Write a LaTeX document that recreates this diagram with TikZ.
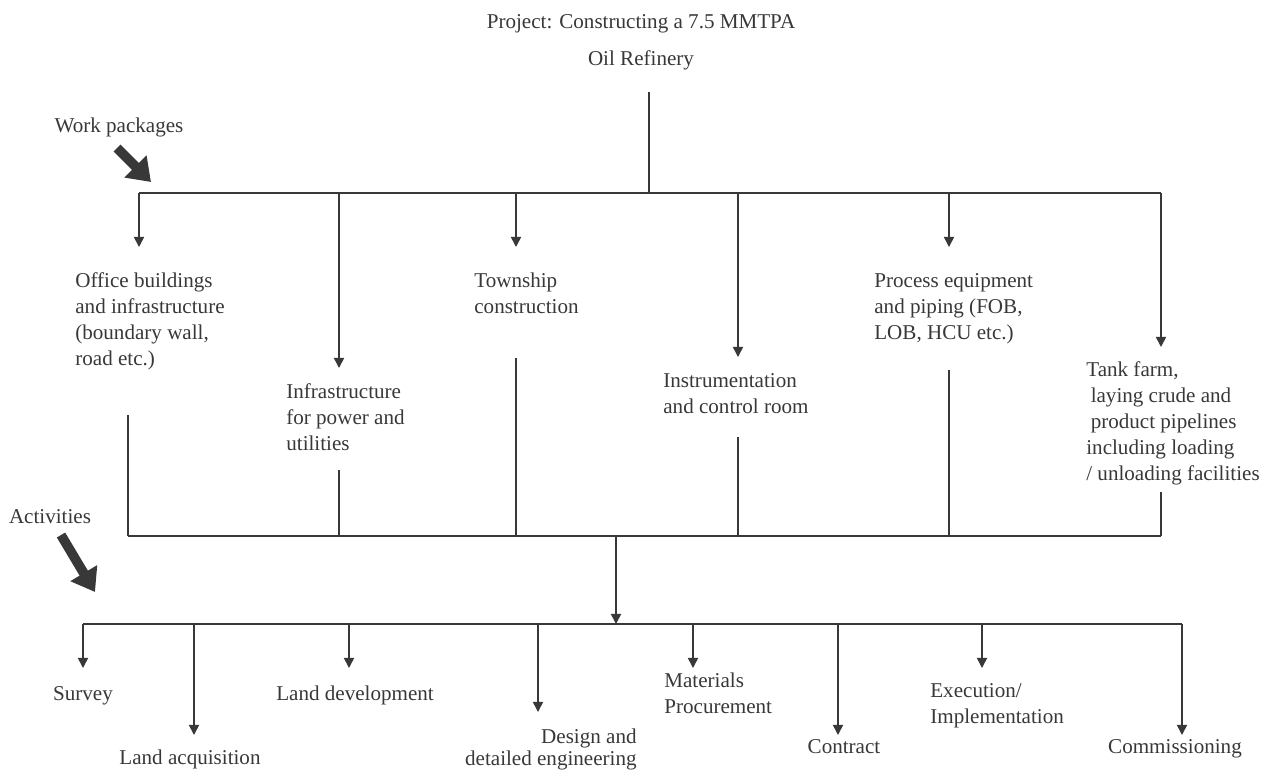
\documentclass[tikz,border=0pt]{standalone}
\usepackage{fontspec}
\setmainfont{Liberation Serif}
\usepackage{tikz}
\usetikzlibrary{arrows.meta, positioning, calc}
\definecolor{inkgray}{gray}{0.22}

\begin{document}
\begin{tikzpicture}[
          x=0.02cm, y=-0.02cm,
          every node/.style={
              font=\fontsize{12pt}{14.8pt}\selectfont,
              text=inkgray, inner sep=0pt
          },
          lbl/.style={align=left, anchor=base west},
          act/.style={anchor=base},
          wire/.style={draw=inkgray, line width=0.9pt},
          arr/.style={wire, -{Triangle[length=5.8pt, width=5.8pt]}},
          bigarr/.style={draw=inkgray, line width=5.5pt,
              -{Triangle[length=12.5pt, width=17pt]}},
      ]
          \useasboundingbox (0,0) rectangle (1269,769);

          % Project (base = last line)
          \node [align=center, anchor=base, font=\fontsize{12pt}{21pt}\selectfont]
              (project) at (641,65) {Project: Constructing a 7.5 MMTPA\\Oil Refinery};
          \coordinate (top) at (649,92);
          \coordinate (wpbus) at (649,193);

          % Work packages
          \node [act] (wplabel) at (119,132) {Work packages};
          \coordinate (wp_from) at (117,148);
          \coordinate (wp_to) at (151,182);

          \node [lbl] (office) at (75,365) {Office buildings\\and infrastructure\\(boundary wall,\\road etc.)};
          \node [lbl] (power) at (286,450) {Infrastructure\\for power and\\utilities};
          \node [lbl] (township) at (474,313) {Township\\construction};
          \node [lbl] (instrument) at (663,413) {Instrumentation\\and control room};
          \node [lbl] (process) at (874,339) {Process equipment\\and piping (FOB,\\LOB, HCU etc.)};
          \node [lbl] (tank) at (1086,480) {Tank farm,\\\hspace{2.5pt}laying crude and\\\hspace{2.5pt}product pipelines\\including loading\\/ unloading facilities};

          \coordinate (office_in) at (139,247);
          \coordinate (power_in) at (339,368);
          \coordinate (township_in) at (516,247);
          \coordinate (instrument_in) at (738,357);
          \coordinate (process_in) at (949,247);
          \coordinate (tank_in) at (1161,347);

          \coordinate (office_out) at (128,415);
          \coordinate (power_out) at (339,470);
          \coordinate (township_out) at (516,358);
          \coordinate (instrument_out) at (738,437);
          \coordinate (process_out) at (949,370);
          \coordinate (tank_out) at (1161,492);
          \coordinate (midbus) at (616,536);

          % Activities
          \node [act] (actlabel) at (50,523) {Activities};
          \coordinate (act_from) at (61,535);
          \coordinate (act_to) at (95,592);
          \coordinate (actbus) at (616,624);

          \node [act] (survey) at (83,700) {Survey};
          \node [act] (landacq) at (190,764) {Land acquisition};
          \node [act] (landdev) at (355,700) {Land development};
          \node [align=right, anchor=base east, font=\fontsize{12pt}{12pt}\selectfont]
              (design) at (637,765) {Design and\\detailed engineering};
          \node [lbl] (materials) at (664,713) {Materials\\Procurement};
          \node [act] (contract) at (844,753) {Contract};
          \node [lbl] (execution) at (930,723) {Execution/\\Implementation};
          \node [act] (commission) at (1175,753) {Commissioning};

          \coordinate (survey_in) at (83,668);
          \coordinate (landacq_in) at (194,735);
          \coordinate (landdev_in) at (349,668);
          \coordinate (design_in) at (538,712);
          \coordinate (materials_in) at (693,668);
          \coordinate (contract_in) at (838,735);
          \coordinate (execution_in) at (982,668);
          \coordinate (commission_in) at (1182,735);

          % Big arrows
          \draw [bigarr] (wp_from) -- (wp_to);
          \draw [bigarr] (act_from) -- (act_to);

          % Upper tree
          \draw [wire] (top) -- (wpbus);
          \draw [wire] (office_in |- wpbus) -- (tank_in |- wpbus);
          \draw [arr] (office_in |- wpbus) -- (office_in);
          \draw [arr] (power_in |- wpbus) -- (power_in);
          \draw [arr] (township_in |- wpbus) -- (township_in);
          \draw [arr] (instrument_in |- wpbus) -- (instrument_in);
          \draw [arr] (process_in |- wpbus) -- (process_in);
          \draw [arr] (tank_in |- wpbus) -- (tank_in);

          % Middle bus
          \draw [wire] (office_out) -- (office_out |- midbus);
          \draw [wire] (power_out) -- (power_out |- midbus);
          \draw [wire] (township_out) -- (township_out |- midbus);
          \draw [wire] (instrument_out) -- (instrument_out |- midbus);
          \draw [wire] (process_out) -- (process_out |- midbus);
          \draw [wire] (tank_out) -- (tank_out |- midbus);
          \draw [wire] (office_out |- midbus) -- (tank_out |- midbus);
          \draw [arr] (midbus) -- (actbus);

          % Lower tree
          \draw [wire] (survey_in |- actbus) -- (commission_in |- actbus);
          \draw [arr] (survey_in |- actbus) -- (survey_in);
          \draw [arr] (landacq_in |- actbus) -- (landacq_in);
          \draw [arr] (landdev_in |- actbus) -- (landdev_in);
          \draw [arr] (design_in |- actbus) -- (design_in);
          \draw [arr] (materials_in |- actbus) -- (materials_in);
          \draw [arr] (contract_in |- actbus) -- (contract_in);
          \draw [arr] (execution_in |- actbus) -- (execution_in);
          \draw [arr] (commission_in |- actbus) -- (commission_in);
        \end{tikzpicture}
\end{document}
